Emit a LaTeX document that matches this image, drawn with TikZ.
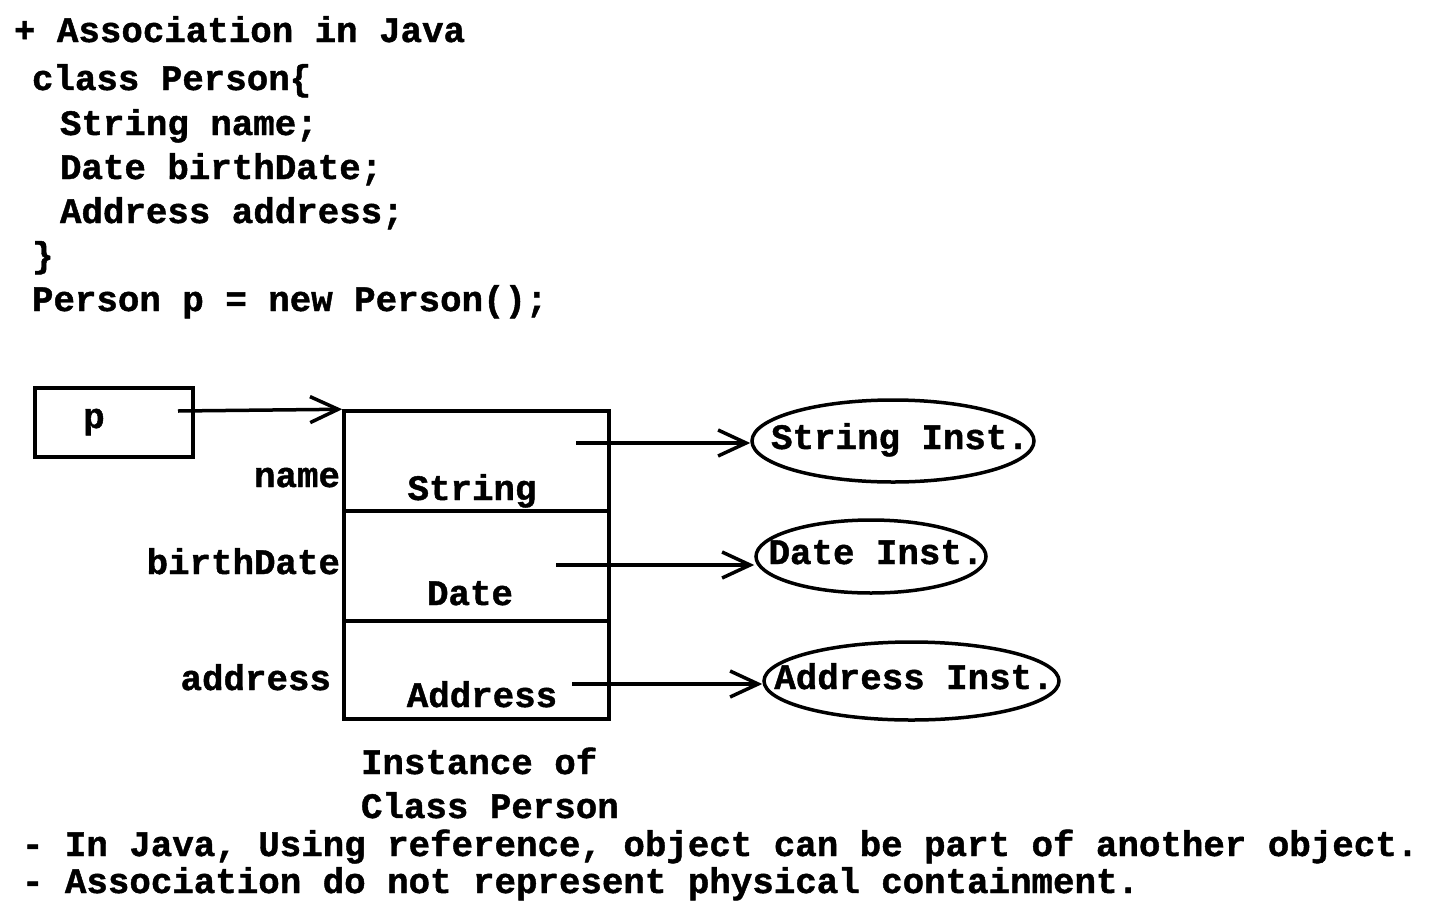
\documentclass[tikz,border=0pt]{standalone}
\usepackage{fontspec}
\setmainfont{Liberation Mono}[BoldFeatures={FakeBold=1.2}]
\usetikzlibrary{arrows.meta,shapes.geometric}
\begin{document}
\begin{tikzpicture}[x=1pt,y=-1pt,
  txt/.style={font=\fontsize{35.8}{44}\selectfont\bfseries,inner sep=0pt,outer sep=0pt},
  code/.style={txt,anchor=base west},
  lbl/.style={txt,anchor=base east},
  ctr/.style={txt,anchor=base},
  box/.style={draw,line width=3.5pt,inner sep=0pt},
  inst/.style={draw,ellipse,line width=3.5pt,inner sep=0pt},
  ref/.style={line width=3.5pt,-{Straight Barb[length=28pt,width=26pt]}}]
\useasboundingbox (0,0) rectangle (1440,900);
% code
\node[code] (l1) at (14,42) {+ Association in Java};
\node[code] (l2) at (32,90) {class Person\{};
\node[code] (l3) at (60,135) {String name;};
\node[code] (l4) at (60,179) {Date birthDate;};
\node[code] (l5) at (60,223) {Address address;};
\node[code] (l6) at (32,267) {\}};
\node[code] (l7) at (32,311) {Person p = new Person();};
% p box
\node[box,minimum width=158pt,minimum height=69pt] (pbox) at (114,422.5) {};
\node[ctr] (ptxt) at (94,428) {p};
% object box
\node[box,minimum width=265pt,minimum height=308pt] (obj) at (476.5,565) {};
\draw[line width=3.5pt] (obj.west |- 0,511) -- (obj.east |- 0,511);
\draw[line width=3.5pt] (obj.west |- 0,621) -- (obj.east |- 0,621);
% labels
\node[lbl] (lname) at (340,487) {name};
\node[lbl] (lbirth) at (340,574) {birthDate};
\node[lbl] (laddr) at (331,690) {address};
\node[ctr] (fstr) at (472,500) {String};
\node[ctr] (fdate) at (470,605) {Date};
\node[ctr] (faddr) at (482,707) {Address};
\node[code] (cap1) at (361,774) {Instance of};
\node[code] (cap2) at (361,818) {Class Person};
% instances
\node[inst,minimum width=282pt,minimum height=82pt] (istr) at (893,441) {};
\node[ctr] (tstr) at (900,449) {String Inst.};
\node[inst,minimum width=230pt,minimum height=73pt] (idate) at (871,556.5) {};
\node[ctr] (tdate) at (876,564) {Date Inst.};
\node[inst,minimum width=295pt,minimum height=78pt] (iaddr) at (911.5,681) {};
\node[ctr] (taddr) at (914,689) {Address Inst.};
% reference coordinates
\coordinate (sp) at (178,411);
\coordinate (s1) at (576,443);
\coordinate (s2) at (556,565);
\coordinate (s3) at (572,684);
\draw[ref] (sp) -- (obj.north west);
\draw[ref] (s1) -- (s1 -| istr.west);
\draw[ref] (s2) -- (s2 -| idate.west);
\draw[ref] (s3) -- (s3 -| iaddr.west);
% notes
\node[code] (n1) at (22,856) {- In Java, Using reference, object can be part of another object.};
\node[code] (n2) at (22,893) {- Association do not represent physical containment.};
\end{tikzpicture}
\end{document}
